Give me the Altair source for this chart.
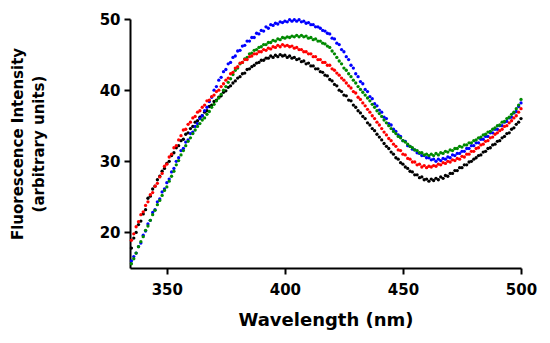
import altair as alt
import pandas as pd

wavelength = list(range(335, 501))

black = [
    17.8, 19.2, 20.0, 21.1, 21.6, 22.6, 23.2, 24.8, 25.1, 26.1,
    26.5, 27.4, 27.9, 28.6, 29.0, 29.7, 30.0, 30.8, 31.2, 31.9,
    32.2, 32.9, 33.1, 33.8, 34.0, 34.6, 34.9, 35.5, 35.7, 36.2,
    36.4, 36.9, 37.1, 37.7, 37.9, 38.4, 38.6, 39.0, 39.2, 39.7,
    39.9, 40.4, 40.6, 41.0, 41.3, 41.7, 41.9, 42.3, 42.4, 42.9,
    43.0, 43.3, 43.5, 43.8, 43.9, 44.2, 44.2, 44.5, 44.5, 44.8,
    44.6, 44.9, 44.7, 45.0, 44.8, 44.9, 44.6, 44.8, 44.5, 44.6,
    44.3, 44.4, 44.0, 44.1, 43.7, 43.8, 43.4, 43.4, 43.0, 43.0,
    42.6, 42.5, 42.1, 42.0, 41.5, 41.3, 40.8, 40.6, 40.0, 39.8,
    39.3, 39.2, 38.6, 38.5, 37.9, 37.6, 37.1, 36.8, 36.3, 36.0,
    35.4, 35.1, 34.6, 34.3, 33.8, 33.4, 33.0, 32.5, 32.1, 31.8,
    31.3, 31.0, 30.5, 30.3, 29.8, 29.6, 29.2, 29.0, 28.6, 28.5,
    28.1, 28.1, 27.7, 27.8, 27.4, 27.5, 27.2, 27.5, 27.3, 27.6,
    27.4, 27.8, 27.6, 28.0, 27.9, 28.3, 28.3, 28.7, 28.7, 29.1,
    29.1, 29.5, 29.5, 29.9, 30.0, 30.3, 30.5, 30.8, 30.9, 31.3,
    31.4, 31.8, 31.9, 32.3, 32.4, 32.8, 32.9, 33.3, 33.5, 33.9,
    34.0, 34.5, 34.7, 35.2, 35.5, 36.0,
]

red = [
    18.9, 19.8, 20.8, 21.5, 22.5, 22.9, 23.8, 24.3, 25.3, 25.6,
    26.5, 26.9, 27.8, 28.3, 29.3, 29.6, 30.6, 31.0, 31.9, 32.2,
    33.0, 33.6, 34.4, 34.5, 35.2, 35.5, 36.1, 36.3, 36.9, 37.1,
    37.6, 37.9, 38.5, 38.6, 39.1, 39.3, 39.8, 40.0, 40.5, 40.9,
    41.4, 41.7, 42.3, 42.5, 43.1, 43.3, 43.8, 43.9, 44.3, 44.3,
    44.7, 44.8, 45.1, 45.1, 45.4, 45.4, 45.7, 45.6, 45.9, 45.8,
    46.1, 46.0, 46.3, 46.1, 46.4, 46.2, 46.3, 46.1, 46.2, 45.9,
    46.0, 45.7, 45.7, 45.4, 45.4, 45.1, 45.1, 44.7, 44.7, 44.3,
    44.3, 43.9, 43.9, 43.5, 43.5, 43.0, 42.8, 42.4, 42.1, 41.7,
    41.4, 41.0, 40.6, 40.3, 39.8, 39.6, 39.0, 38.7, 38.2, 37.8,
    37.3, 36.9, 36.4, 36.0, 35.5, 35.1, 34.6, 34.1, 33.7, 33.2,
    32.9, 32.4, 32.1, 31.6, 31.5, 31.0, 30.9, 30.4, 30.3, 29.9,
    29.9, 29.5, 29.6, 29.2, 29.4, 29.1, 29.3, 29.2, 29.4, 29.3,
    29.6, 29.5, 29.8, 29.7, 30.0, 29.9, 30.2, 30.1, 30.4, 30.3,
    30.7, 30.6, 31.0, 31.0, 31.4, 31.4, 31.8, 31.9, 32.3, 32.4,
    32.8, 32.9, 33.3, 33.4, 33.8, 34.0, 34.3, 34.5, 34.9, 35.0,
    35.4, 35.7, 36.1, 36.4, 36.9, 37.4,
]

green = [
    15.6, 16.3, 17.1, 18.0, 18.7, 19.4, 20.3, 20.9, 21.7, 22.5,
    23.1, 23.9, 24.5, 25.2, 25.9, 26.4, 27.2, 27.9, 28.6, 29.5,
    30.1, 30.9, 31.5, 32.2, 32.8, 33.3, 33.9, 34.4, 34.9, 35.3,
    35.8, 36.1, 36.6, 37.0, 37.6, 38.0, 38.5, 38.9, 39.4, 40.0,
    40.5, 41.1, 41.6, 42.2, 42.8, 43.1, 43.7, 43.9, 44.4, 44.6,
    45.1, 45.2, 45.6, 45.7, 46.0, 46.1, 46.4, 46.4, 46.7, 46.7,
    47.0, 46.9, 47.2, 47.1, 47.4, 47.3, 47.5, 47.4, 47.6, 47.5,
    47.7, 47.5, 47.7, 47.5, 47.6, 47.3, 47.4, 47.1, 47.2, 46.9,
    46.9, 46.6, 46.5, 46.2, 46.0, 45.5, 45.1, 44.6, 44.1, 43.7,
    43.1, 42.8, 42.3, 41.9, 41.4, 41.0, 40.5, 40.1, 39.7, 39.3,
    38.9, 38.5, 38.0, 37.6, 37.1, 36.7, 36.3, 35.8, 35.4, 35.0,
    34.6, 34.2, 33.9, 33.5, 33.3, 32.9, 32.7, 32.4, 32.1, 31.9,
    31.6, 31.5, 31.2, 31.2, 30.9, 31.0, 30.8, 31.0, 30.8, 31.1,
    30.9, 31.2, 31.1, 31.4, 31.3, 31.6, 31.5, 31.8, 31.8, 32.1,
    32.0, 32.3, 32.3, 32.6, 32.6, 32.9, 33.0, 33.3, 33.4, 33.7,
    33.8, 34.1, 34.2, 34.5, 34.7, 35.0, 35.1, 35.5, 35.6, 36.0,
    36.2, 36.6, 36.9, 37.4, 37.9, 38.7,
]

blue = [
    16.0, 16.6, 17.1, 18.0, 18.5, 19.6, 20.2, 21.2, 21.7, 22.8,
    23.2, 24.3, 24.7, 25.7, 26.1, 27.0, 27.5, 28.5, 29.0, 30.0,
    30.5, 31.5, 31.8, 32.7, 33.0, 33.9, 34.1, 34.9, 35.3, 36.0,
    36.4, 37.1, 37.6, 38.4, 39.0, 40.0, 40.5, 41.4, 41.8, 42.6,
    42.9, 43.7, 43.9, 44.6, 44.8, 45.5, 45.6, 46.2, 46.3, 46.9,
    46.9, 47.4, 47.4, 48.0, 47.9, 48.4, 48.3, 48.9, 48.7, 49.2,
    49.1, 49.4, 49.3, 49.6, 49.5, 49.7, 49.6, 49.9, 49.7, 49.9,
    49.7, 49.9, 49.6, 49.7, 49.4, 49.5, 49.2, 49.2, 48.9, 48.9,
    48.7, 48.4, 48.3, 48.0, 47.9, 47.3, 47.2, 46.6, 46.4, 45.7,
    45.4, 44.7, 44.3, 43.5, 43.1, 42.3, 41.9, 41.2, 40.9, 40.1,
    39.8, 39.1, 38.8, 38.1, 37.8, 37.2, 36.9, 36.2, 36.0, 35.3,
    35.1, 34.5, 34.2, 33.7, 33.5, 32.9, 32.8, 32.2, 32.1, 31.7,
    31.6, 31.2, 31.1, 30.8, 30.8, 30.5, 30.5, 30.2, 30.3, 30.0,
    30.3, 30.1, 30.4, 30.3, 30.6, 30.5, 30.9, 30.8, 31.1, 31.1,
    31.4, 31.4, 31.8, 31.8, 32.2, 32.2, 32.6, 32.6, 33.1, 33.1,
    33.5, 33.5, 34.0, 34.0, 34.5, 34.5, 35.0, 35.0, 35.5, 35.6,
    36.1, 36.2, 36.8, 37.0, 37.7, 38.2,
]

series_names = ["black", "blue", "green", "red"]
series_colors = ["#000000", "#0000ff", "#008a00", "#ff0000"]
series_values = [black, blue, green, red]

rows = []
for name, vals in zip(series_names, series_values):
    for w, v in zip(wavelength, vals):
        rows.append({"wavelength": w, "intensity": v, "series": name})
df = pd.DataFrame(rows)

FONT = "DejaVu Sans"

x_axis = alt.Axis(
    values=[350, 400, 450, 500], title="Wavelength (nm)", grid=False,
    domainColor="black", domainWidth=2, tickColor="black", tickWidth=2, tickSize=6,
    labelFont=FONT, labelFontSize=15, labelFontWeight="bold", labelColor="black",
    labelPadding=8, labelFlush=False,
    titleFont=FONT, titleFontSize=18, titleFontWeight="bold", titleColor="black",
    titleBaseline="alphabetic", titleY=57,
)
y_axis = alt.Axis(
    values=[20, 30, 40, 50], title=["Fluorescence Intensity", "(arbitrary units)"], grid=False,
    domainColor="black", domainWidth=2, tickColor="black", tickWidth=2, tickSize=6,
    labelFont=FONT, labelFontSize=15, labelFontWeight="bold", labelColor="black",
    labelPadding=4,
    titleFont=FONT, titleFontSize=15, titleFontWeight="bold", titleColor="black",
    titleAngle=270, titleBaseline="alphabetic", titleAlign="center",
    titleX=-107.5, titleY=124.5, titleLineHeight=21,
)

chart = alt.Chart(df).mark_circle(size=11, opacity=1).encode(
    x=alt.X("wavelength:Q", scale=alt.Scale(domain=[334.4, 500], nice=False, zero=False), axis=x_axis),
    y=alt.Y("intensity:Q", scale=alt.Scale(domain=[15, 50], nice=False, zero=False), axis=y_axis),
    color=alt.Color("series:N", scale=alt.Scale(domain=series_names, range=series_colors), legend=None),
).properties(
    width=391, height=249,
    autosize=alt.AutoSizeParams(type="none"),
    padding={"left": 122, "top": 11, "right": 20, "bottom": 70},
).configure_view(stroke=None)

chart.save("out.html", embed_options={"renderer": "svg", "actions": False})
